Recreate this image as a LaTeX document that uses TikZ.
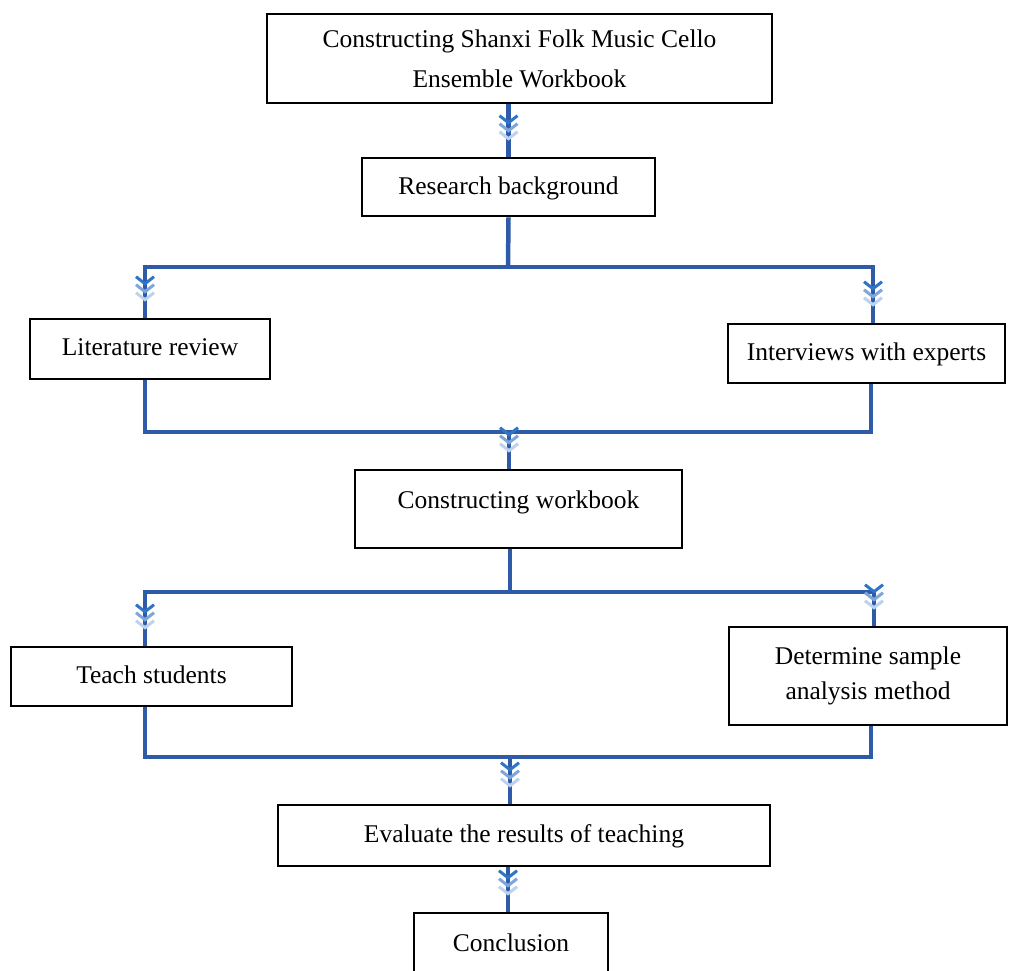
\documentclass[tikz,border=0pt]{standalone}
\usepackage{fontspec}
\setmainfont{Liberation Serif}
\usetikzlibrary{arrows.meta,decorations.markings}
\definecolor{flowblue}{HTML}{2E5AA8}
\definecolor{chevA}{HTML}{2E75C8}
\definecolor{chevB}{HTML}{7DA6DA}
\definecolor{chevC}{HTML}{BCD2EE}
\tikzset{
  box/.style={draw=black, line width=2.8pt, fill=white, inner sep=0pt, align=center,
    font=\fontsize{25.5}{40}\selectfont},
  flow/.style={draw=flowblue, line width=4.5pt},
  chev/.style={Straight Barb[length=7pt,width=18pt,line width=3pt,color=#1]},
  arr/.style={postaction={decorate}, decoration={markings,
    mark=at position -32pt with {\arrow{Straight Barb[length=7pt,width=18pt,line width=3pt,color=chevA]}},
    mark=at position -24pt with {\arrow{Straight Barb[length=7pt,width=18pt,line width=3pt,color=chevB]}},
    mark=at position -16pt with {\arrow{Straight Barb[length=7pt,width=18pt,line width=3pt,color=chevC]}}}}
}
\begin{document}
\begin{tikzpicture}[x=1pt,y=-1pt]
\clip (0,0) rectangle (1012,970);
\fill[white] (0,0) rectangle (1012,970);
% nodes
\node[box, minimum width=505pt, minimum height=89pt] (top) at (519.5,58.5)
  {Constructing Shanxi Folk Music Cello\\Ensemble Workbook};
\node[box, minimum width=293pt, minimum height=58pt, text depth=3pt] (rb) at (508.5,187) {Research background};
\node[box, minimum width=240pt, minimum height=60pt, text depth=3pt] (lit) at (150,349) {Literature review};
\node[box, minimum width=277pt, minimum height=59pt, text depth=3pt] (int) at (866.5,353.5) {Interviews with experts};
\node[box, minimum width=327pt, minimum height=78pt, text depth=18pt] (wb) at (518.5,509) {Constructing workbook};
\node[box, minimum width=281pt, minimum height=59pt, text depth=3pt] (teach) at (151.5,676.5) {Teach students};
\node[box, minimum width=278pt, minimum height=98pt, font=\fontsize{25.5}{35}\selectfont] (det) at (868,676)
  {Determine sample\\analysis method};
\node[box, minimum width=492pt, minimum height=61pt, text depth=3pt] (ev) at (524,835.5) {Evaluate the results of teaching};
\node[box, minimum width=194pt, minimum height=62pt, text depth=3pt] (cc) at (511,944) {Conclusion};
% junctions
\coordinate (j1) at (508,267);
\coordinate (j2) at (509,432);
\coordinate (j3) at (510,592);
\coordinate (j4) at (510,757);
% connectors
\draw[flow,arr] (rb.north |- top.south) -- (rb.north);
\draw[flow] (rb.south) -- (j1);
\draw[flow,arr] (j1) -| ([xshift=-5pt]lit.north);
\draw[flow,arr] (j1) -| ([xshift=6.5pt]int.north);
\draw[flow] ([xshift=-5pt]lit.south) |- (j2) -| ([xshift=4.5pt]int.south);
\draw[flow,arr] (j2) -- (wb.north -| j2);
\draw[flow] (wb.south -| j3) -- (j3);
\draw[flow,arr] (j3) -| ([xshift=-6.5pt]teach.north);
\draw[flow,arr] (j3) -| ([xshift=6pt]det.north);
\draw[flow] ([xshift=-6.5pt]teach.south) |- (j4) -| ([xshift=3pt]det.south);
\draw[flow,arr] (j4) -- (ev.north -| j4);
\draw[flow,arr] ([xshift=-3pt]cc.north |- ev.south) -- ([xshift=-3pt]cc.north);
\end{tikzpicture}
\end{document}
